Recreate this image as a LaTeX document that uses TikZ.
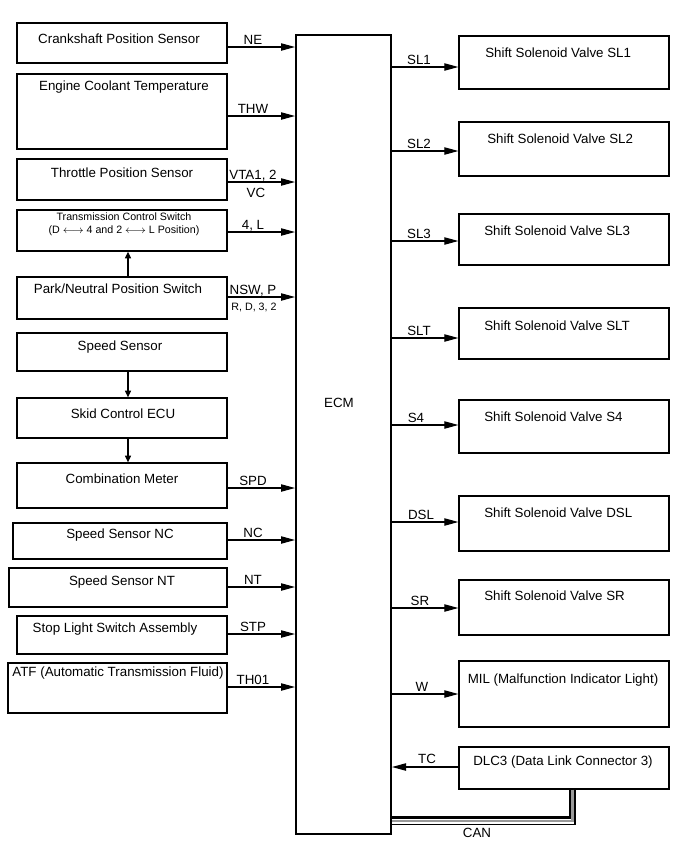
\documentclass[tikz,border=0pt]{standalone}
\usepackage{fontspec}
\setmainfont{Liberation Sans}
\usetikzlibrary{arrows.meta,fit}
\newcommand{\blk}[8]{\node[box, fit={(#2,#3) (#4,#5)}] (#1) {};\node[txt] (#1t) at (#6,#7) {#8};}
\newcommand{\blkw}[8]{\node[box, fit={(#2,#3) (#4,#5)}] (#1) {};\node[txt, anchor=base west] (#1t) at (#6,#7) {#8};}
\newcommand{\insig}[4]{\coordinate (#1) at (0,#3);\draw[sig] (#2.east |- #1) -- (ecm.west |- #1);\node[txt] (#1l) at (253,#3-2.5) {#4};}
\newcommand{\outsig}[5]{\coordinate (#1) at (0,#3);\draw[sig] (ecm.east |- #1) -- (#2.west |- #1);\node[txt] (#1l) at (#5,#3-2.5) {#4};}
\begin{document}
\begin{tikzpicture}[x=0.75pt,y=-0.75pt,
  box/.style={draw=black, line width=1pt, inner sep=0pt},
  ecmbox/.style={draw=black, line width=1.5pt, inner sep=0pt},
  txt/.style={font=\fontsize{10}{12}\selectfont, inner sep=0pt, anchor=base},
  small/.style={font=\fontsize{8}{10}\selectfont, inner sep=0pt, anchor=base},
  sig/.style={line width=0.8pt, -{Triangle[length=10.5pt,width=5.5pt]}},
  up/.style={line width=0.8pt, -{Triangle[length=5pt,width=4.5pt]}},
  canblack/.style={line width=#1, draw=black},
  cangray/.style={line width=2pt, draw=black!40},
]
\fill[white] (0,0) rectangle (690,861);
\useasboundingbox (0,0) rectangle (690,861);

% ECM
\node[ecmbox, fit={(296,35) (391,834)}] (ecm) {};
\node[txt] (ecmt) at (339,407) {ECM};

% left blocks
\blk{crank}{17}{23}{227}{63}{119}{43}{Crankshaft Position Sensor}
\blk{ect}{17}{74}{227}{149}{124}{90}{Engine Coolant Temperature}
\blk{tps}{17}{159}{227}{200}{122}{177}{Throttle Position Sensor}
\node[box, fit={(17,210) (227,251)}] (tcs) {};
\node[small] (tcst1) at (124,220) {Transmission Control Switch};
\node[small] (tcst2) at (124,233) {(D $\longleftrightarrow$ 4 and 2 $\longleftrightarrow$ L Position)};
\blk{pnp}{17}{277}{227}{319}{118}{293}{Park/Neutral Position Switch}
\blk{spd}{17}{333}{227}{371}{120}{350}{Speed Sensor}
\blk{skid}{17}{398}{227}{438}{123}{418}{Skid Control ECU}
\blk{comb}{17}{463}{227}{508}{122}{483}{Combination Meter}
\blk{nc}{13}{523}{227}{559}{120}{538}{Speed Sensor NC}
\blk{nt}{9}{568}{227}{607}{122}{585}{Speed Sensor NT}
\blk{stop}{17}{616}{227}{654}{115}{632}{Stop Light Switch Assembly}
\blk{atf}{8}{663}{227}{713}{118}{676}{ATF (Automatic Transmission Fluid)}

% right blocks
\blkw{sl1}{459}{36}{669}{89}{485}{57}{Shift Solenoid Valve SL1}
\blkw{sl2}{459}{122}{669}{176}{487}{143}{Shift Solenoid Valve SL2}
\blkw{sl3}{459}{214}{669}{265}{484}{235}{Shift Solenoid Valve SL3}
\blkw{slt}{459}{308}{669}{359}{484}{330}{Shift Solenoid Valve SLT}
\blkw{s4}{459}{400}{669}{453}{484}{421}{Shift Solenoid Valve S4}
\blkw{dsl}{459}{496}{669}{551}{484}{517}{Shift Solenoid Valve DSL}
\blkw{sr}{459}{580}{669}{635}{484}{600}{Shift Solenoid Valve SR}
\blk{mil}{459}{661}{669}{727}{563}{683}{MIL (Malfunction Indicator Light)}
\blk{dlc}{459}{747}{669}{789}{563}{765}{DLC3 (Data Link Connector 3)}

% inputs
\insig{ne}{crank}{47}{NE}
\insig{thw}{ect}{116}{THW}
\insig{vta}{tps}{182}{VTA1, 2}
\node[txt] (vcl) at (256,197) {VC};
\insig{fl}{tcs}{232}{4, L}
\insig{nsw}{pnp}{297}{NSW, P}
\node[small] (rdl) at (254,310) {R, D, 3, 2};
\insig{spdl}{comb}{488}{SPD}
\insig{ncs}{nc}{540}{NC}
\insig{nts}{nt}{587}{NT}
\insig{stp}{stop}{634}{STP}
\insig{th}{atf}{687}{TH01}

% chain arrows
\coordinate (vx) at (128,0);
\draw[up] (pnp.north -| vx) -- (tcs.south -| vx);
\draw[up] (spd.south -| vx) -- (skid.north -| vx);
\draw[up] (skid.south -| vx) -- (comb.north -| vx);

% outputs
\outsig{o1}{sl1}{67}{SL1}{419}
\outsig{o2}{sl2}{151}{SL2}{419}
\outsig{o3}{sl3}{241}{SL3}{419}
\outsig{o4}{slt}{338}{SLT}{419}
\outsig{o5}{s4}{425}{S4}{416}
\outsig{o6}{dsl}{522}{DSL}{421}
\outsig{o7}{sr}{608}{SR}{420}
\outsig{o8}{mil}{694}{W}{422}

% TC
\coordinate (tc) at (0,767);
\draw[sig] (dlc.west |- tc) -- (ecm.east |- tc);
\node[txt] (tcl) at (427,763) {TC};

% CAN
\coordinate (c1) at (570,817.5);
\coordinate (c2) at (572.5,821);
\coordinate (c3) at (575,824.5);
\draw[cangray] (dlc.south -| c2) -- (c2) -- (ecm.east |- c2);
\draw[canblack=2pt] (dlc.south -| c1) -- (c1) -- (ecm.east |- c1);
\draw[canblack=1.3pt] (dlc.south -| c3) -- (c3) -- (ecm.east |- c3);
\node[txt] (canl) at (477,837) {CAN};
\end{tikzpicture}
\end{document}
